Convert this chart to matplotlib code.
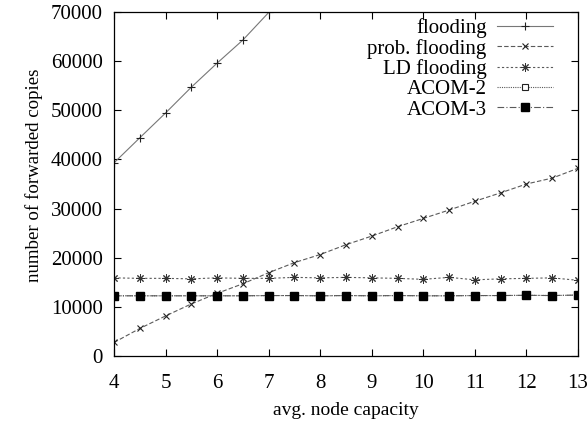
import matplotlib
matplotlib.use("Agg")
import matplotlib.pyplot as plt

plt.rcParams['font.family'] = ['Liberation Serif', 'DejaVu Serif']

capacity = [4, 4.5, 5, 5.5, 6, 6.5, 7, 7.5, 8, 8.5, 9, 9.5, 10, 10.5, 11, 11.5, 12, 12.5, 13]

flood_x = [4, 4.5, 5, 5.5, 6, 6.5, 7, 7.5]
flooding = [39300, 44400, 49450, 54700, 59600, 64300, 69900, 75000]

prob_flooding = [2750, 5600, 8150, 10600, 12750, 14700, 16950, 19000, 20650, 22650,
                 24400, 26300, 28000, 29700, 31500, 33200, 35000, 36200, 38200]
ld_flooding = [15900, 15800, 15800, 15700, 15900, 15800, 15800, 16000, 15900, 16000,
               15900, 15800, 15600, 16000, 15500, 15700, 15800, 15900, 15400]
acom2 = [12250, 12250, 12250, 12250, 12250, 12250, 12300, 12300, 12250, 12300,
         12250, 12300, 12250, 12250, 12300, 12300, 12350, 12300, 12400]
acom3 = [12250, 12250, 12250, 12250, 12250, 12250, 12300, 12300, 12250, 12300,
         12250, 12300, 12250, 12250, 12300, 12300, 12350, 12300, 12400]

fig = plt.figure(figsize=(5.87, 4.23), dpi=100)
ax = fig.add_axes([114 / 587, 1 - 356 / 423, (578 - 114) / 587, (356 - 12) / 423])

line_c = '#5a5a5a'
ax.plot(flood_x, flooding, color='#777777', lw=0.8, ls='-', marker='+', ms=6,
        mec='#222222', mew=0.8, label='flooding')
ax.plot(capacity, prob_flooding, color=line_c, lw=0.8, ls=(0, (4, 2)), marker='x', ms=5,
        mec='#222222', mew=0.8, label='prob. flooding')
ax.plot(capacity, ld_flooding, color=line_c, lw=0.8, ls=(0, (2, 2)), marker=(8, 2, 0), ms=6,
        mec='#333333', mew=0.7, label='LD flooding')
ax.plot(capacity, acom2, color=line_c, lw=0.8, ls=(0, (1, 1)), marker='s', ms=5,
        mfc='white', mec='#222222', mew=0.8, label='ACOM-2')
ax.plot(capacity, acom3, color=line_c, lw=0.8, ls=(0, (6, 2, 1, 2)), marker='s', ms=5.5,
        mfc='black', mec='black', label='ACOM-3')

ax.set_xlim(4, 13)
ax.set_ylim(0, 70000)
ax.set_xticks(range(4, 14))
ax.set_yticks(range(0, 70001, 10000))
ax.tick_params(direction='in', top=True, right=True, length=5, width=0.8,
               labelsize=15)
ax.tick_params(axis='x', pad=13)
ax.tick_params(axis='y', pad=8)
for s in ax.spines.values():
    s.set_linewidth(0.9)

ax.set_xlabel('avg. node capacity', fontsize=14)
ax.xaxis.set_label_coords(0.5, -0.135)
ax.set_ylabel('number of forwarded copies', fontsize=13.6)
ax.yaxis.set_label_coords(-0.153, 0.526)

leg = ax.legend(loc='upper right', bbox_to_anchor=(0.955, 0.994), markerfirst=False,
                frameon=False, fontsize=15, handlelength=2.7, labelspacing=0.03,
                handletextpad=0.48, borderpad=0.2, borderaxespad=0)
for col in leg._legend_handle_box.get_children():
    col.align = 'right'

fig.savefig('out.png', dpi=100)
